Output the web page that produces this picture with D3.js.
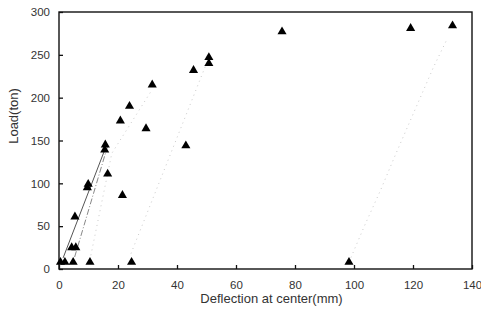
<!DOCTYPE html>
<html>
<head>
<style>
body { margin: 0; background: #fff; }
svg text { font-family: "Liberation Sans", Arial, sans-serif; fill: #333; }
</style>
<script src="https://cdn.jsdelivr.net/npm/d3@7"></script>
</head>
<body>
<script>
// measured points (deflection mm, load ton)
var deflection = [0.5, 2.0, 4.8, 10.5, 24.6, 98.3,
                  4.3, 5.7, 5.4, 9.6, 9.9, 15.5, 15.7, 16.5, 21.5, 20.8,
                  23.9, 29.5, 31.6, 43.0, 45.6, 50.8, 50.8, 75.6, 119.2, 133.4];
var load = [8, 8, 8, 8, 8, 8,
            25, 25, 61, 95, 99, 139, 145, 111, 86, 173,
            190, 164, 215, 144, 232, 240, 247, 277, 281, 284];

// faint trend lines
var lineA = [[1.4, 13], [15.5, 139]];
var lineB = [[5.3, 14], [16.6, 145]];
var lineC = [[10.8, 16], [17.9, 135], [31.5, 209]];
var lineD = [[24.4, 18], [50.0, 240]];
var lineE = [[98.3, 8], [103.5, 50], [109, 92], [114, 133], [127, 236], [131.5, 268]];

var xTicks = [0, 20, 40, 60, 80, 100, 120, 140];
var yTicks = [0, 50, 100, 150, 200, 250, 300];

var width = 481, height = 325;
var mLeft = 59, mRight = 472, mTop = 12, mBottom = 269;

var svg = d3.select("body").append("svg").attr("width", width).attr("height", height);

var x = d3.scaleLinear().domain([0, 140]).range([mLeft, mRight]);
var y = d3.scaleLinear().domain([0, 300]).range([mBottom, mTop]);

// frame
svg.append("rect").attr("x", mLeft).attr("y", mTop)
  .attr("width", mRight - mLeft).attr("height", mBottom - mTop)
  .attr("fill", "none").attr("stroke", "#111").attr("stroke-width", 1.4);

// axes with inward ticks
var xAxis = d3.axisBottom(x).tickValues(xTicks).tickSize(-4).tickPadding(12).tickFormat(d3.format("d"));
var xg = svg.append("g").attr("transform", `translate(0,${mBottom})`).call(xAxis);
var yAxis = d3.axisLeft(y).tickValues(yTicks).tickSize(-4).tickPadding(9).tickFormat(d3.format("d"));
var yg = svg.append("g").attr("transform", `translate(${mLeft},0)`).call(yAxis);
[xg, yg].forEach(function(g) {
  g.select(".domain").remove();
  g.selectAll("line").attr("stroke", "#111").attr("stroke-width", 1.3);
  g.selectAll("text").style("font-size", "11.5px").attr("fill", "#333");
});

// trend lines
var lineGen = d3.line().x(d => x(d[0])).y(d => y(d[1]));
svg.append("path").datum(lineA).attr("d", lineGen).attr("fill", "none")
  .attr("stroke", "#555").attr("stroke-width", 1);
svg.append("path").datum(lineB).attr("d", lineGen).attr("fill", "none")
  .attr("stroke", "#888").attr("stroke-width", 1).attr("stroke-dasharray", "6,2,1,2");
[lineC, lineD, lineE].forEach(function(l) {
  svg.append("path").datum(l).attr("d", lineGen).attr("fill", "none")
    .attr("stroke", "#bbb").attr("stroke-width", 0.8).attr("stroke-dasharray", "1,4");
});

// triangles
var tri = d3.symbol().type(d3.symbolTriangle).size(36);
svg.selectAll(".pt").data(deflection).enter().append("path")
  .attr("class", "pt")
  .attr("d", tri)
  .attr("transform", (d, i) => `translate(${x(d)},${y(load[i])})`)
  .attr("fill", "#000");

// labels
svg.append("text").attr("x", (mLeft + mRight) / 2 + 6).attr("y", 303)
  .attr("text-anchor", "middle").style("font-size", "13px")
  .text("Deflection at center(mm)");
svg.append("text").attr("transform", "translate(18,116) rotate(-90)")
  .attr("text-anchor", "middle").style("font-size", "13px")
  .text("Load(ton)");
</script>
</body>
</html>
